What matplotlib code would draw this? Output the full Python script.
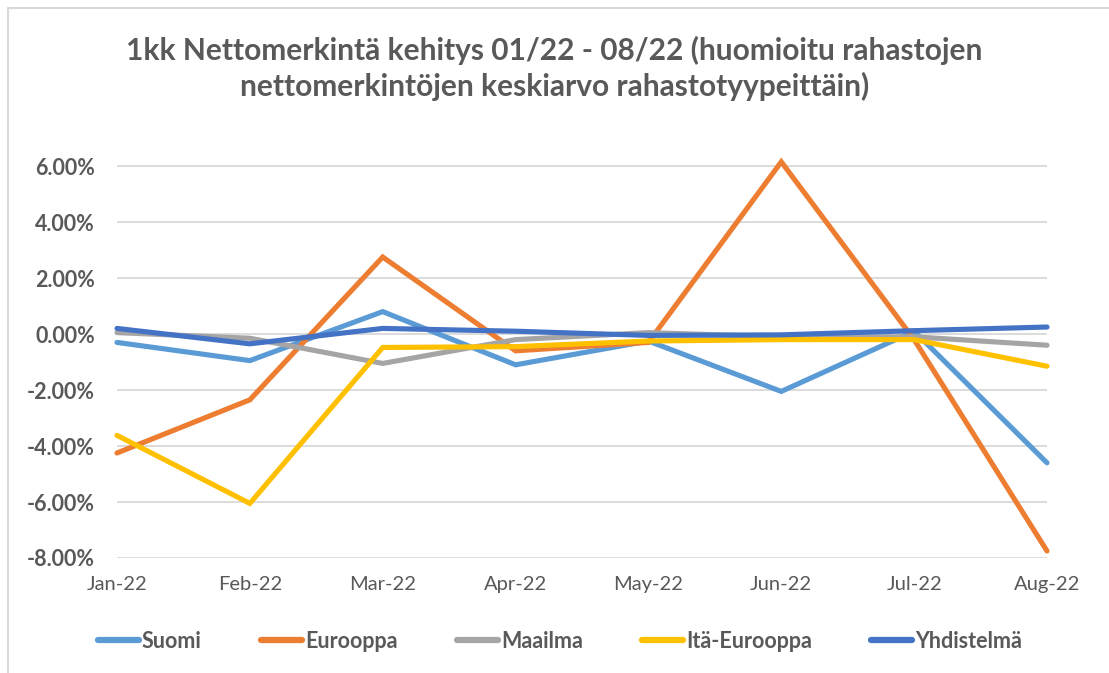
import matplotlib.pyplot as plt
from matplotlib.lines import Line2D
from matplotlib.ticker import FuncFormatter

months = ["Jan-22", "Feb-22", "Mar-22", "Apr-22", "May-22", "Jun-22", "Jul-22", "Aug-22"]

suomi = [-0.30, -0.95, 0.80, -1.10, -0.25, -2.05, 0.10, -4.60]
eurooppa = [-4.25, -2.35, 2.75, -0.60, -0.30, 6.15, -0.20, -7.75]
maailma = [0.05, -0.15, -1.05, -0.20, 0.05, -0.10, -0.10, -0.40]
ita_eurooppa = [-3.62, -6.05, -0.48, -0.45, -0.25, -0.20, -0.20, -1.15]
yhdistelma = [0.20, -0.35, 0.20, 0.10, -0.05, -0.03, 0.12, 0.25]

series = [
    ("Suomi", suomi, "#5B9BD5"),
    ("Eurooppa", eurooppa, "#ED7D31"),
    ("Maailma", maailma, "#A5A5A5"),
    ("Itä-Eurooppa", ita_eurooppa, "#FFC000"),
    ("Yhdistelmä", yhdistelma, "#4472C4"),
]
yticks = [-8, -6, -4, -2, 0, 2, 4, 6]

plt.rcParams['font.family'] = ['Lato', 'DejaVu Sans']
grey = "#595959"

fig = plt.figure(figsize=(11.09, 6.73), dpi=100)
ax = fig.add_axes([117 / 1109, 115 / 673, 930 / 1109, 0.6157])

x = list(range(len(months)))
for name, vals, col in series:
    ax.plot(x, vals, color=col, lw=3.7, label=name, solid_capstyle='round',
            solid_joinstyle='miter', clip_on=False, zorder=3)

ax.set_xlim(0, len(months) - 1)
ax.set_ylim(-8, 6.8)
ax.set_yticks(yticks)
ax.yaxis.set_major_formatter(FuncFormatter(lambda v, p: f"{v:.2f}%"))
ax.set_xticks(x)
ax.set_xticklabels(months)
ax.grid(axis='y', color="#D9D9D9", lw=1.3, zorder=0)
for s in ax.spines.values():
    s.set_visible(False)
ax.tick_params(length=0)
ax.tick_params(axis='y', pad=16, labelsize=15.5, labelcolor=grey)
ax.tick_params(axis='x', pad=13, labelsize=14.5, labelcolor=grey)
for t in ax.get_yticklabels():
    t.set_fontweight('bold')

fig.text(0.5, 0.898, "1kk Nettomerkintä kehitys 01/22 - 08/22 (huomioitu rahastojen\n"
         "nettomerkintöjen keskiarvo rahastotyypeittäin)",
         ha='center', va='center', fontsize=21.5, fontweight='bold', color=grey,
         linespacing=1.3)

handles = [Line2D([], [], color=c, lw=4.5, solid_capstyle='round') for _, _, c in series]
leg = fig.legend(handles, [n for n, _, _ in series], loc='center',
                 bbox_to_anchor=(0.505, 0.047), ncol=5, frameon=False,
                 handlelength=1.9, handletextpad=0.15, columnspacing=2.75,
                 prop={'weight': 'bold', 'size': 15.5})
for t in leg.get_texts():
    t.set_color(grey)

# chart border
fig.add_artist(Line2D([8 / 1109, 1], [1 - 8 / 673, 1 - 8 / 673], color="#D9D9D9", lw=1.5))
fig.add_artist(Line2D([8 / 1109, 8 / 1109], [0, 1 - 8 / 673], color="#D9D9D9", lw=1.5))

fig.savefig("out.png", dpi=100)
